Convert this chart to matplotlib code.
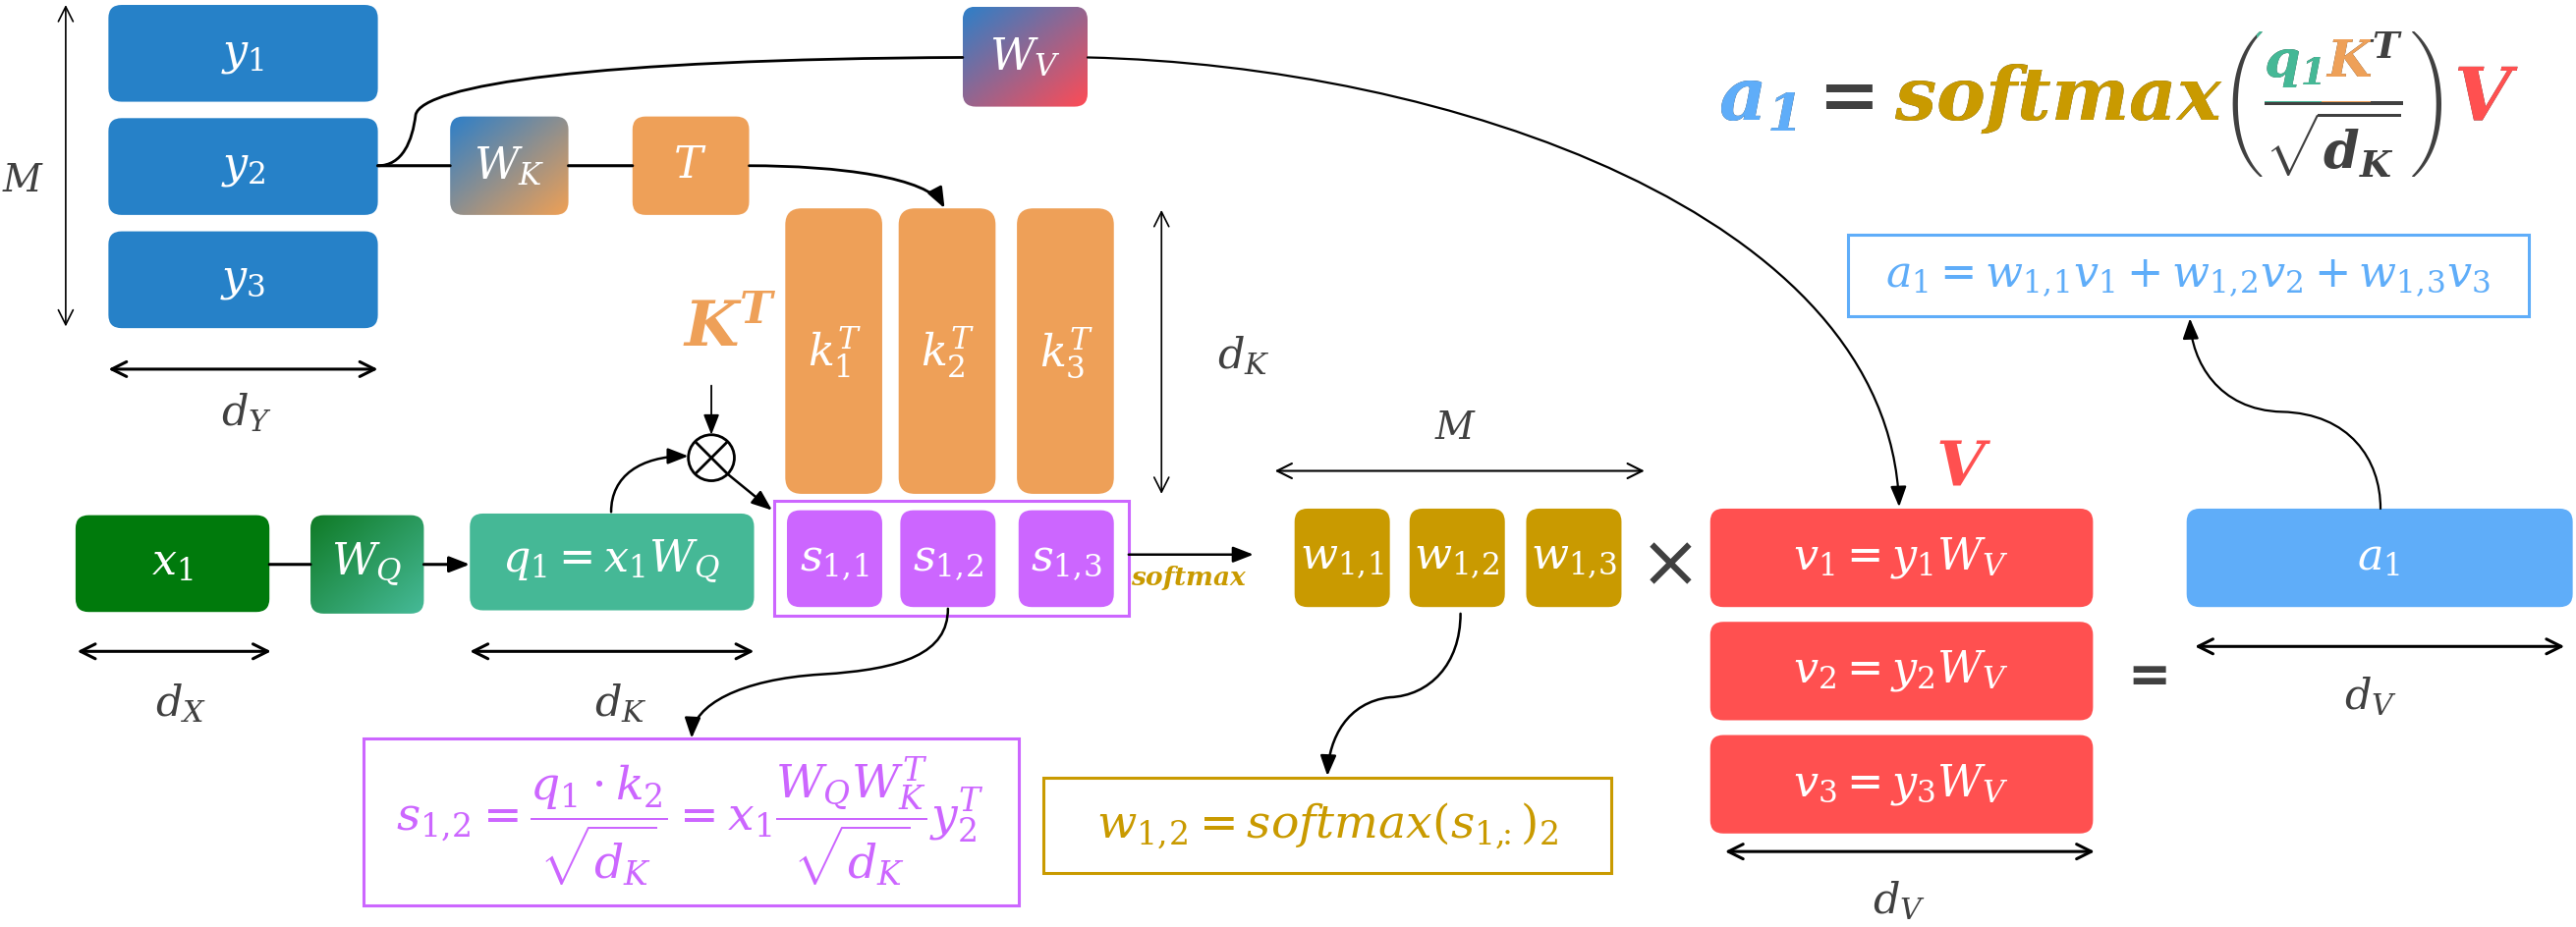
import numpy as np
import matplotlib
matplotlib.use('Agg')
import matplotlib.pyplot as plt
from matplotlib.patches import FancyBboxPatch, Rectangle, Circle, FancyArrowPatch
from matplotlib.path import Path
from matplotlib.colors import to_rgb
from matplotlib.transforms import Bbox, TransformedBbox

plt.rcParams['mathtext.fontset'] = 'custom'
plt.rcParams['mathtext.rm'] = 'DejaVu Serif'
plt.rcParams['mathtext.it'] = 'DejaVu Serif:italic'
plt.rcParams['mathtext.bf'] = 'DejaVu Serif:italic:bold'

# --- labels -------------------------------------------------------------
y_labels = [r'$y_1$', r'$y_2$', r'$y_3$']
k_labels = [r'$k_1^T$', r'$k_2^T$', r'$k_3^T$']
s_labels = [r'$s_{1,\!1}$', r'$s_{1,\!2}$', r'$s_{1,\!3}$']
w_labels = [r'$w_{1,\!1}$', r'$w_{1,\!2}$', r'$w_{1,\!3}$']
v_labels = [r'$v_1 = y_1W_V$', r'$v_2 = y_2W_V$', r'$v_3 = y_3W_V$']
s_formula = (r'$s_{1,\!2} = \dfrac{q_1 \cdot k_2}{\sqrt{d_K}} = '
             r'x_1\dfrac{W_QW_K^T}{\sqrt{d_K}}y_2^T$')
w_formula = r'$w_{1,\!2} = softmax(s_{1,\!\!\!:})_2$'
a_formula = r'$a_1 = w_{1,\!1}v_1 + w_{1,\!2}v_2 + w_{1,\!3}v_3$'
big_pre = [r'\mathbf{a_1}', r'\mathbf{a_1} \mathbf{=}',
           r'\mathbf{a_1} \mathbf{=} \mathbf{softmax}',
           r'\mathbf{a_1} \mathbf{=} \mathbf{softmax}'
           r'\left(\frac{\mathbf{q_1K^T}}{\sqrt{\mathbf{d_K}}}\right)']
big_formula = '$' + big_pre[-1] + r'\mathbf{V}$'

BLUE = '#2681C8'
ORANGE = '#EEA058'
GREEN = '#007A0C'
TEAL = '#45B896'
PURPLE = '#CC66FF'
GOLD = '#C99A00'
RED = '#FF5050'
LBLUE = '#5FADF9'
GRAY = '#404040'

fig = plt.figure(figsize=(26.22, 9.44), dpi=100)
ax = fig.add_axes([0, 0, 1, 1])
ax.axis('off')


def box(x0, y0, x1, y1, color, r=8):
    p = FancyBboxPatch((x0, y0), x1 - x0, y1 - y0,
                       boxstyle='round,pad=0,rounding_size=%g' % r,
                       fc=color, ec='none', zorder=2)
    ax.add_patch(p)


def grad_box(x0, y0, x1, y1, c1, c2, r=8):
    p = FancyBboxPatch((x0, y0), x1 - x0, y1 - y0,
                       boxstyle='round,pad=0,rounding_size=%g' % r,
                       fc='none', ec='none', zorder=2)
    ax.add_patch(p)
    u, v = np.meshgrid(np.linspace(0, 1, 64), np.linspace(0, 1, 64))
    t = ((u + v) / 2)[..., None]
    img = (1 - t) * np.array(to_rgb(c1)) + t * np.array(to_rgb(c2))
    im = ax.imshow(img, extent=(x0, x1, y1, y0), origin='upper',
                   interpolation='bilinear', aspect='auto', zorder=2)
    im.set_clip_path(p)


def frame(x0, y0, x1, y1, color, lw=2.2):
    ax.add_patch(Rectangle((x0, y0), x1 - x0, y1 - y0, fc='none',
                           ec=color, lw=lw, zorder=3))


def label(x, y, s, color='white', size=32, **kw):
    return ax.text(x, y, s, color=color, fontsize=size, ha='center',
                   va='center', zorder=5, **kw)


def dim(x0, y0, x1, y1, lw=2.2):
    ax.annotate('', xy=(x1, y1), xytext=(x0, y0),
                arrowprops=dict(arrowstyle='<->,head_length=0.6,head_width=0.3',
                                lw=lw, color='black', shrinkA=0, shrinkB=0,
                                mutation_scale=18))


def curve(pts, lw=1.8, arrow=True):
    codes = [Path.MOVETO] + [Path.CURVE4] * (len(pts) - 1)
    style = '-|>,head_length=0.9,head_width=0.35' if arrow else '-'
    ax.add_patch(FancyArrowPatch(path=Path(pts, codes), arrowstyle=style,
                                 mutation_scale=14, lw=lw, color='black',
                                 zorder=4))


def line(x0, y0, x1, y1, lw=2.2, arrow=False):
    style = '-|>,head_length=0.9,head_width=0.35' if arrow else '-'
    ax.add_patch(FancyArrowPatch((x0, y0), (x1, y1), arrowstyle=style,
                                 mutation_scale=14, lw=lw, color='black',
                                 shrinkA=0, shrinkB=0, zorder=4))


# --- Y inputs and projections -----------------------------------------
for i, lab in enumerate(y_labels):
    y0 = 3 + i * 69
    box(66, y0, 230, y0 + 59, BLUE)
    label(148, y0 + 30, lab)
dim(40, 3, 40, 199, lw=1.2)
label(14, 110, r'$M$', GRAY, 28)
dim(66, 225, 230, 225)
label(150, 252, r'$d_Y$', GRAY, 31)

grad_box(586, 4, 662, 65, '#2E7FC8', '#FF4B55')
label(624, 35, r'$W_V$')
grad_box(274, 71, 346, 131, '#2E7FC8', '#EFA055')
label(310, 101, r'$W_K$')
box(385, 71, 456, 131, ORANGE)
label(420, 101, r'$T$')

line(230, 101, 274, 101)
line(346, 101, 385, 101)
curve([(230, 101), (245, 101), (251, 86), (253, 70),
       (257, 52), (360, 36), (586, 35)], lw=2.0, arrow=False)
curve([(456, 101), (510, 101), (565, 108), (575, 127)], lw=2.0)
curve([(662, 35), (880, 40), (1150, 130), (1156, 309)], lw=1.6)

# --- K^T columns --------------------------------------------------------
for i, lab in enumerate(k_labels):
    x0 = [478, 547, 619][i]
    box(x0, 127, x0 + 59, 301, ORANGE, r=10)
    label(x0 + 30, 215, lab)
ax.text(444, 200, r'$\mathbf{K^T}$', color=ORANGE, fontsize=46,
        ha='center', va='center', zorder=5)
dim(707, 128, 707, 301, lw=1.2)
label(757, 217, r'$d_K$', GRAY, 31)

# --- query path -------------------------------------------------------
box(46, 314, 164, 373, GREEN)
label(105, 343, r'$x_1$')
grad_box(189, 314, 258, 374, '#0F7A25', '#46BA98')
label(223, 344, r'$W_Q$')
box(286, 313, 459, 372, TEAL)
label(372, 342, r'$q_1 = x_1W_Q$')
line(164, 344, 189, 344)
line(258, 344, 286, 344, arrow=True)
dim(47, 397, 165, 397)
label(110, 429, r'$d_X$', GRAY, 31)
dim(286, 397, 459, 397)
label(378, 429, r'$d_K$', GRAY, 31)

ax.add_patch(Circle((433, 279), 14, fc='white', ec='black', lw=2, zorder=4))
for sgn in (1, -1):
    ax.plot([433 - 9, 433 + 9], [279 - 9 * sgn, 279 + 9 * sgn], color='black',
            lw=2, zorder=5)
line(433, 235, 433, 265, lw=1.3, arrow=True)
curve([(372, 312), (372, 290), (390, 278), (419, 278)])
line(443, 289, 470, 311, lw=1.8, arrow=True)

# --- scores -------------------------------------------------------------
frame(471, 305, 687, 375, PURPLE)
for i, lab in enumerate(s_labels):
    x0 = [479, 548, 620][i]
    box(x0, 311, x0 + 58, 370, PURPLE)
    label(x0 + 29, 342, lab)
line(687, 338, 763, 338, lw=1.8, arrow=True)
ax.text(724, 352, r'$\mathbf{softmax}$', color=GOLD, fontsize=19,
        ha='center', va='center', zorder=5)
curve([(577, 371), (577, 398), (550, 408), (500, 411),
       (450, 414), (422, 430), (421, 450)])
frame(221, 450, 620, 552, PURPLE)
label(420, 501, s_formula, PURPLE, 34)

# --- weights ------------------------------------------------------------
dim(776, 287, 1001, 287, lw=1.5)
label(886, 261, r'$M$', GRAY, 28)
for i, lab in enumerate(w_labels):
    x0 = [788, 858, 929][i]
    box(x0, 310, x0 + 58, 370, GOLD)
    label(x0 + 29, 341, lab)
curve([(889, 374), (889, 405), (870, 424), (846, 425),
       (820, 428), (809, 450), (808, 473)])
frame(635, 474, 981, 532, GOLD)
label(808, 503, w_formula, GOLD, 34)

ax.text(1017, 345, '×', color=GRAY, fontsize=54, ha='center', va='center')

# --- values -------------------------------------------------------------
for i, lab in enumerate(v_labels):
    y0 = [310, 379, 448][i]
    box(1041, y0, 1274, y0 + 60, RED)
    label(1157, y0 + 30, lab)
ax.text(1195, 285, r'$\mathbf{V}$', color=RED, fontsize=46,
        ha='center', va='center', zorder=5)
dim(1050, 519, 1275, 519)
label(1156, 549, r'$d_V$', GRAY, 31)

ax.text(1308, 413, '=', color=GRAY, fontsize=38, fontweight='bold',
        ha='center', va='center')

# --- output -------------------------------------------------------------
box(1331, 310, 1566, 370, LBLUE)
label(1448, 340, r'$a_1$')
dim(1336, 394, 1561, 394)
label(1443, 425, r'$d_V$', GRAY, 31)
curve([(1449, 310), (1449, 280), (1430, 252), (1389, 251),
       (1350, 250), (1334, 220), (1333, 194)], lw=1.6)
frame(1125, 143, 1539, 193, LBLUE)
label(1332, 169, a_formula, LBLUE, 32)

# --- big formula: one gray layout, re-coloured through clip boxes ------
ax.set_xlim(0, 1568)
ax.set_ylim(565, 0)
FS = 54
X0, Y0 = 1046, 64
rend = fig.canvas.get_renderer()
inv = ax.transData.inverted()


def right_edge(s, fs):
    t = ax.text(X0, Y0, s, fontsize=fs, ha='left', va='center')
    bb = t.get_window_extent(renderer=rend)
    t.remove()
    return inv.transform((bb.x1, bb.y0))[0]


def width(s, fs):
    return right_edge(s, fs) - X0


e1, e2, e3, e4 = [right_edge('$' + p + '$', FS) for p in big_pre]
c = (e3 + e4) / 2
wn = width(r'$\mathbf{q_1K^T}$', FS * 0.7)
wq = width(r'$\mathbf{q_1}$', FS * 0.7)
wk = width(r'$\mathbf{K}$', FS * 0.7)
nl = c - wn / 2
regions = [(X0 - 10, e1 + 2, 0, 140, LBLUE),
           (e2 + 2, e3 + 2, 0, 140, GOLD),
           (nl - 4, nl + wq, 0, Y0 - 2, TEAL),
           (nl + wq, nl + wq + wk, 0, Y0 - 2, ORANGE),
           (e4 + 1, e4 + 80, 0, 140, RED)]

ax.text(X0, Y0, big_formula, color=GRAY, fontsize=FS, ha='left',
        va='center', zorder=5)
for x0, x1, y0, y1, col in regions:
    t = ax.text(X0, Y0, big_formula, color=col, fontsize=FS, ha='left',
                va='center', zorder=6)
    t.set_clip_box(TransformedBbox(Bbox([[x0, y0], [x1, y1]]), ax.transData))
    t.set_clip_on(True)

ax.set_xlim(0, 1568)
ax.set_ylim(565, 0)
fig.savefig('out.png', dpi=100)
